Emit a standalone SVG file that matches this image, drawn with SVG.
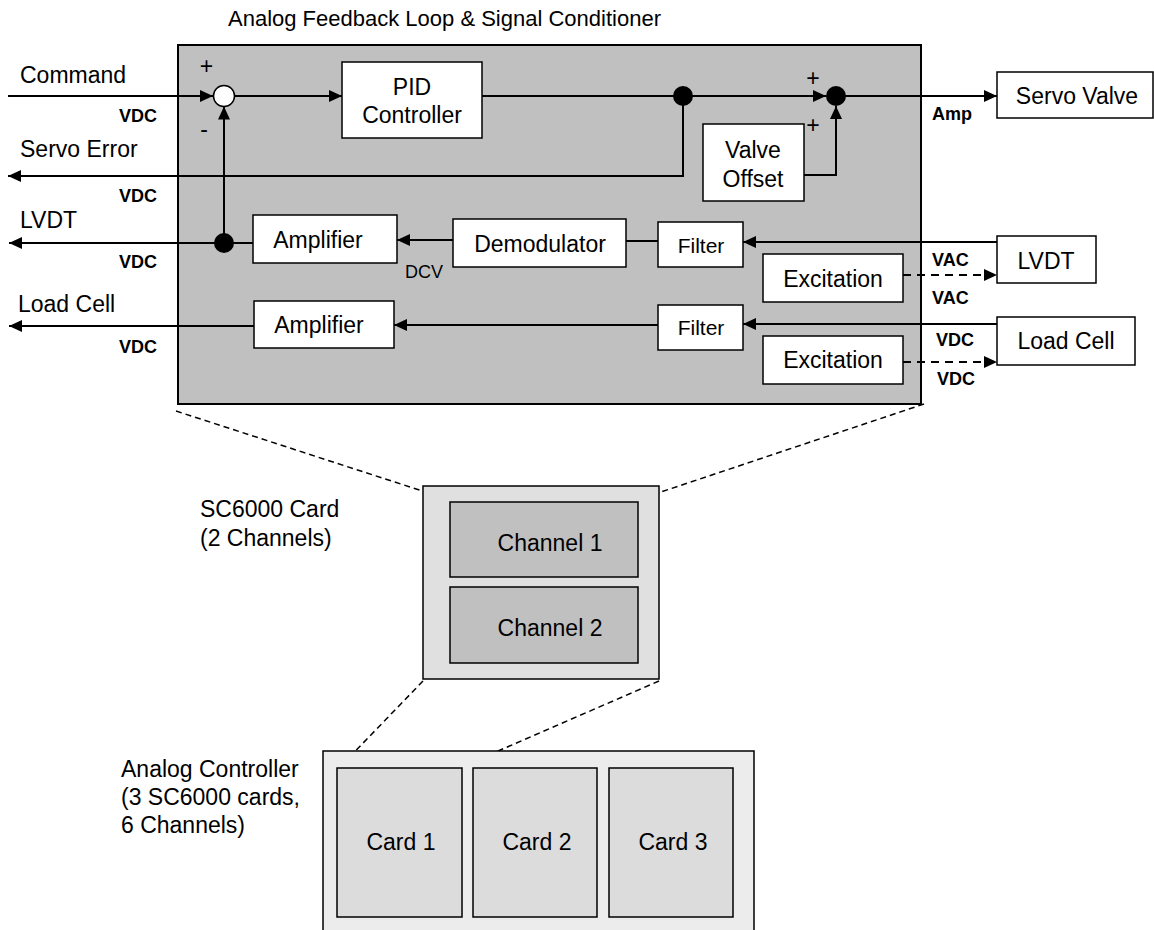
<svg xmlns="http://www.w3.org/2000/svg" width="1154" height="930" viewBox="0 0 1154 930">
<style>
text{font-family:"Liberation Sans",Arial,sans-serif;fill:#000}
.t{font-size:23px}
.c{text-anchor:middle}
.s{font-size:18px;font-weight:bold}
.sr{font-size:18px}
.f{font-size:21px}
.box{fill:#fff;stroke:#000;stroke-width:1.5}
.ln{fill:none;stroke:#000;stroke-width:2}
.da{fill:none;stroke:#000;stroke-width:2;stroke-dasharray:8,6}
.zd{fill:none;stroke:#000;stroke-width:1.5;stroke-dasharray:6,4}
</style>
<defs>
<marker id="ah" markerUnits="userSpaceOnUse" markerWidth="13" markerHeight="12" refX="13" refY="6" orient="auto">
<path d="M0,0 L13,6 L0,12 z" fill="#000"/>
</marker>
</defs>
<rect width="1154" height="930" fill="#fff"/>

<text class="t" x="228" y="26" style="font-size:22px">Analog Feedback Loop &amp; Signal Conditioner</text>
<g id="main">
<rect x="178" y="45" width="743" height="359" fill="#c0c0c0" stroke="#000" stroke-width="2"/>
</g>

<g id="labels">
<text class="t" x="20" y="83">Command</text>
<text class="t" x="20" y="157">Servo Error</text>
<text class="t" x="20" y="228">LVDT</text>
<text class="t" x="18" y="312">Load Cell</text>
<text class="s" x="119" y="122">VDC</text>
<text class="s" x="119" y="202">VDC</text>
<text class="s" x="119" y="268">VDC</text>
<text class="s" x="119" y="353">VDC</text>
<text class="s" x="932" y="120">Amp</text>
<text class="sr" x="405" y="278">DCV</text>
<text class="s" x="932" y="266">VAC</text>
<text class="s" x="932" y="304">VAC</text>
<text class="s" x="936" y="346">VDC</text>
<text class="s" x="937" y="385">VDC</text>
<text class="t c" x="206.5" y="74">+</text>
<text class="t c" x="204" y="137">-</text>
<text class="t c" x="813" y="86">+</text>
<text class="t c" x="813" y="133">+</text>
</g>

<g id="connectors">
<line class="ln" x1="8" y1="96" x2="213" y2="96" marker-end="url(#ah)"/>
<line class="ln" x1="234.5" y1="96" x2="342" y2="96" marker-end="url(#ah)"/>
<line class="ln" x1="482" y1="96" x2="683" y2="96"/>
<line class="ln" x1="683" y1="96" x2="826" y2="96" marker-end="url(#ah)"/>
<line class="ln" x1="836" y1="96" x2="997" y2="96" marker-end="url(#ah)"/>
<polyline class="ln" points="683,96 683,176 8,176" marker-end="url(#ah)"/>
<polyline class="ln" points="804,175 836,175 836,106" marker-end="url(#ah)"/>
<line class="ln" x1="253" y1="243" x2="9" y2="243" marker-end="url(#ah)"/>
<line class="ln" x1="224" y1="243" x2="224" y2="106.5" marker-end="url(#ah)"/>
<line class="ln" x1="453" y1="240" x2="397" y2="240" marker-end="url(#ah)"/>
<line class="ln" x1="658" y1="241" x2="626" y2="241"/>
<line class="ln" x1="997" y1="242" x2="743" y2="242" marker-end="url(#ah)"/>
<line class="da" x1="903" y1="275" x2="997" y2="275" marker-end="url(#ah)"/>
<line class="ln" x1="997" y1="324" x2="743" y2="324" marker-end="url(#ah)"/>
<line class="ln" x1="658" y1="325" x2="394" y2="325" marker-end="url(#ah)"/>
<line class="ln" x1="254" y1="326" x2="9" y2="326" marker-end="url(#ah)"/>
<line class="da" x1="903" y1="362" x2="997" y2="362" marker-end="url(#ah)"/>
<line class="zd" x1="176" y1="411" x2="450" y2="500"/>
<line class="zd" x1="924" y1="404" x2="640" y2="499"/>
<line class="zd" x1="423" y1="681" x2="339" y2="768"/>
<line class="zd" x1="659" y1="681" x2="459" y2="768"/>
</g>

<g id="sum1"><circle cx="224" cy="96" r="10.5" fill="#fff" stroke="#000" stroke-width="1.5"/></g>
<g id="dot1"><circle cx="683" cy="96" r="10" fill="#000"/></g>
<g id="dot2"><circle cx="836" cy="96" r="10" fill="#000"/></g>
<g id="dot3"><circle cx="224" cy="243" r="10" fill="#000"/></g>

<g id="pid"><rect class="box" x="342" y="62" width="140" height="76"/>
<text class="t c" x="412" y="95">PID</text><text class="t c" x="412" y="123">Controller</text></g>
<g id="servovalve"><rect class="box" x="997" y="72" width="156" height="46"/>
<text class="t c" x="1077" y="104">Servo Valve</text></g>
<g id="valveoffset"><rect class="box" x="703" y="124" width="101" height="77"/>
<text class="t c" x="753" y="158">Valve</text><text class="t c" x="753" y="187">Offset</text></g>
<g id="amp1"><rect class="box" x="253" y="215" width="144" height="48"/>
<text class="t c" x="318" y="248">Amplifier</text></g>
<g id="amp2"><rect class="box" x="254" y="301" width="140" height="47"/>
<text class="t c" x="319" y="333">Amplifier</text></g>
<g id="demod"><rect class="box" x="453" y="219" width="173" height="48"/>
<text class="t c" x="540" y="252">Demodulator</text></g>
<g id="filter1"><rect class="box" x="658" y="222" width="85" height="45"/>
<text class="f c" x="701" y="253">Filter</text></g>
<g id="filter2"><rect class="box" x="658" y="305" width="85" height="45"/>
<text class="f c" x="701" y="335">Filter</text></g>
<g id="exc1"><rect class="box" x="763" y="254" width="140" height="48"/>
<text class="t c" x="833" y="287">Excitation</text></g>
<g id="exc2"><rect class="box" x="763" y="336" width="140" height="48"/>
<text class="t c" x="833" y="368">Excitation</text></g>
<g id="lvdt"><rect class="box" x="997" y="236" width="99" height="47"/>
<text class="t c" x="1046" y="269">LVDT</text></g>
<g id="loadcell"><rect class="box" x="997" y="317" width="138" height="48"/>
<text class="t c" x="1066" y="349">Load Cell</text></g>

<g id="sc6000">
<rect x="423" y="486" width="236" height="193" fill="#e0e0e0" stroke="#000" stroke-width="1.5"/>
<text class="t" x="200" y="517">SC6000 Card</text>
<text class="t" x="200" y="546">(2 Channels)</text>
</g>
<g id="channel1"><rect x="450" y="502" width="188" height="75" fill="#c0c0c0" stroke="#000" stroke-width="1.5"/>
<text class="t c" x="550" y="551">Channel 1</text></g>
<g id="channel2"><rect x="450" y="587" width="188" height="76" fill="#c0c0c0" stroke="#000" stroke-width="1.5"/>
<text class="t c" x="550" y="636">Channel 2</text></g>

<g id="controller">
<rect x="323" y="751" width="431" height="200" fill="#ececec" stroke="#000" stroke-width="1.5"/>
<text class="t" x="121" y="777">Analog Controller</text>
<text class="t" x="121" y="805">(3 SC6000 cards,</text>
<text class="t" x="121" y="833">6 Channels)</text>
</g>
<g id="card1"><rect x="337" y="768" width="125" height="149" fill="#dcdcdc" stroke="#000" stroke-width="1.5"/>
<text class="t c" x="401" y="850">Card 1</text></g>
<g id="card2"><rect x="473" y="768" width="124" height="149" fill="#dcdcdc" stroke="#000" stroke-width="1.5"/>
<text class="t c" x="537" y="850">Card 2</text></g>
<g id="card3"><rect x="609" y="768" width="124" height="149" fill="#dcdcdc" stroke="#000" stroke-width="1.5"/>
<text class="t c" x="673" y="850">Card 3</text></g>
</svg>
